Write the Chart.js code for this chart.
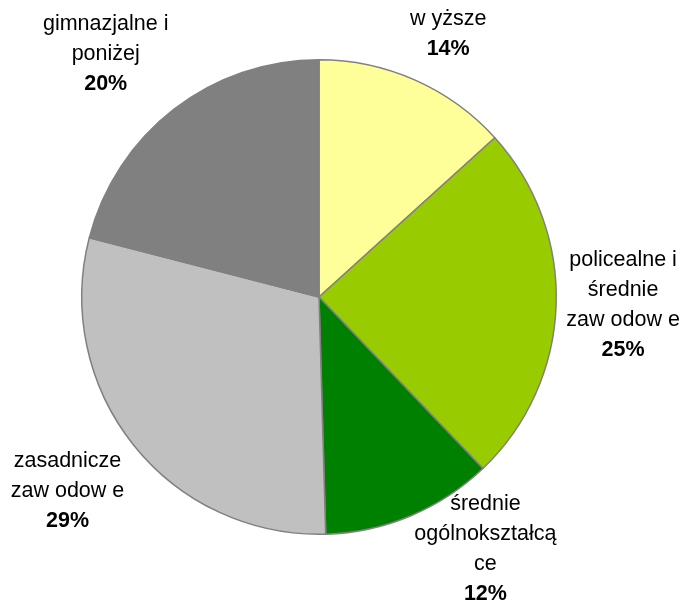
<!DOCTYPE html>
<html>
<head>
<meta charset="utf-8">
<script src="https://cdn.jsdelivr.net/npm/chart.js@4.4.1/dist/chart.umd.min.js"></script>
<style>
  html, body { margin: 0; padding: 0; background: #fff; }
  canvas { display: block; }
</style>
</head>
<body>
<canvas id="pieChart" width="681" height="604"></canvas>
<script>
// education level shares
const categories = [
  ['w yższe'],
  ['policealne i', 'średnie', 'zaw odow e'],
  ['średnie', 'ogólnokształcą', 'ce'],
  ['zasadnicze', 'zaw odow e'],
  ['gimnazjalne i', 'poniżej']
];
const sliceValues = [13.3, 24.6, 11.7, 29.5, 21.0];
// percentages as printed on the labels
const labelPercents = [14, 25, 12, 29, 20];
const sliceColors = ['#FFFF99', '#99CC00', '#008000', '#C0C0C0', '#808080'];

// nudges for the text blocks, relative to the outer midpoint of each slice
const labelNudge = [[33, -46], [67, 0], [75, 33], [-66, 46], [-68, -55]];

const labelFont = '21.5px "Liberation Sans", Arial, sans-serif';
const labelFontBold = 'bold 21.5px "Liberation Sans", Arial, sans-serif';
const lineGap = 30;

// Plugin that draws the outside labels
const outsideLabels = {
  id: 'outsideLabels',
  afterDraw(chart) {
    const ctx = chart.ctx;
    const arcs = chart.getDatasetMeta(0).data;
    ctx.save();
    ctx.fillStyle = '#000';
    ctx.textAlign = 'center';
    ctx.textBaseline = 'middle';
    arcs.forEach((arc, i) => {
      const mid = (arc.startAngle + arc.endAngle) / 2;
      const px = arc.x + Math.cos(mid) * arc.outerRadius + labelNudge[i][0];
      const py = arc.y + Math.sin(mid) * arc.outerRadius + labelNudge[i][1];
      const lines = categories[i].concat([labelPercents[i] + '%']);
      const top = py - (lines.length - 1) * lineGap / 2;
      lines.forEach((txt, j) => {
        ctx.font = j === lines.length - 1 ? labelFontBold : labelFont;
        ctx.fillText(txt, px, top + j * lineGap);
      });
    });
    ctx.restore();
  }
};

const ctx = document.getElementById('pieChart').getContext('2d');
new Chart(ctx, {
  type: 'pie',
  data: {
    labels: categories.map(c => c.join(' ')),
    datasets: [{
      data: sliceValues,
      backgroundColor: sliceColors,
      borderColor: '#808080',
      borderWidth: 1.5
    }]
  },
  options: {
    responsive: false,
    animation: false,
    layout: {
      padding: { left: 81, right: 124, top: 59, bottom: 69 }
    },
    plugins: {
      legend: { display: false },
      tooltip: { enabled: false }
    }
  },
  plugins: [outsideLabels]
});
</script>
</body>
</html>
